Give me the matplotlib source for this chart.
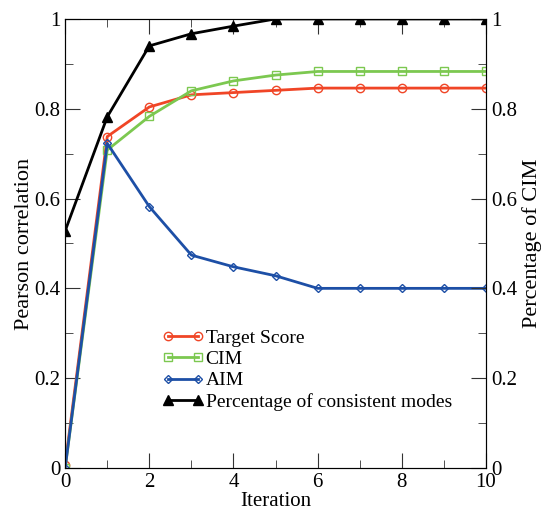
import numpy as np
import matplotlib.pyplot as plt
from matplotlib.ticker import MultipleLocator

iteration = np.arange(0, 11)
target_score = [0.007, 0.738, 0.804, 0.831, 0.836, 0.841, 0.846, 0.846, 0.846, 0.846, 0.846]
cim = [0.0, 0.708, 0.783, 0.840, 0.862, 0.875, 0.883, 0.883, 0.883, 0.883, 0.883]
aim = [0.0, 0.723, 0.582, 0.474, 0.448, 0.428, 0.400, 0.400, 0.400, 0.400, 0.400]
consistent = [0.528, 0.782, 0.940, 0.967, 0.984, 1.0, 1.0, 1.0, 1.0, 1.0, 1.0]

plt.rcParams['font.family'] = ['Liberation Serif', 'DejaVu Serif']

fig = plt.figure(figsize=(5.43, 5.12), dpi=100)
ax = fig.add_axes([0.12, 0.086, 0.775, 0.877])

ax.plot(iteration, target_score, color='#f04526', lw=2, marker='o', ms=6,
        mfc='none', mew=1, label='Target Score')
ax.plot(iteration, cim, color='#7cc850', lw=2, marker='s', ms=5.5,
        mfc='none', mew=1, label='CIM')
ax.plot(iteration, aim, color='#1d4fa6', lw=2, marker='D', ms=4.5,
        mfc='none', mew=1, label='AIM')
ax.plot(iteration, consistent, color='black', lw=2, marker='^', ms=6.5,
        label='Percentage of consistent modes')

fmt = plt.FuncFormatter(lambda v, p: f"{v:g}")

ax.set_xlim(0, 10)
ax.set_ylim(0, 1)
ax.xaxis.set_major_locator(MultipleLocator(2))
ax.xaxis.set_minor_locator(MultipleLocator(1))
ax.yaxis.set_major_locator(MultipleLocator(0.2))
ax.yaxis.set_minor_locator(MultipleLocator(0.1))
ax.yaxis.set_major_formatter(fmt)
ax.tick_params(which='both', direction='in', top=True, labelsize=15, colors='#333333',
               labelcolor='black')
ax.tick_params(which='major', length=11)
ax.tick_params(which='minor', length=6)
for s in ax.spines.values():
    s.set_color('#444444')

ax.set_xlabel('Iteration', fontsize=15, labelpad=0)
ax.set_ylabel('Pearson correlation', fontsize=16, labelpad=0)

ax2 = ax.twinx()
ax2.set_ylim(0, 1)
ax2.yaxis.set_major_locator(MultipleLocator(0.2))
ax2.yaxis.set_minor_locator(MultipleLocator(0.1))
ax2.yaxis.set_major_formatter(fmt)
ax2.tick_params(which='both', direction='in', labelsize=15, colors='#333333',
                labelcolor='black')
ax2.tick_params(which='major', length=11)
ax2.tick_params(which='minor', length=6)
ax2.set_ylabel('Percentage of CIM', fontsize=16, labelpad=4)

ax.legend(loc='upper left', bbox_to_anchor=(0.207, 0.33), frameon=False, fontsize=14,
          numpoints=2, handlelength=2.15, handletextpad=0.1, labelspacing=0.18,
          borderpad=0)

fig.savefig('out.png', dpi=100)
